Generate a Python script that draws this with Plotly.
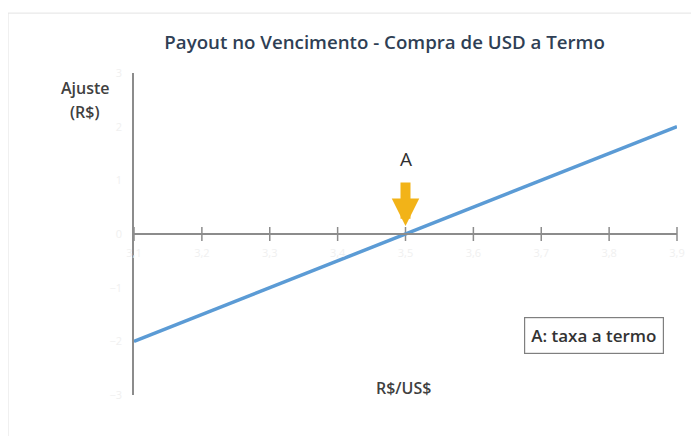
import plotly.graph_objects as go

# Data
spot = [3.1, 3.9]            # R$/US$
ajuste = [-2.0, 2.0]         # R$
x_ticks = [3.1, 3.2, 3.3, 3.4, 3.5, 3.6, 3.7, 3.8, 3.9]
y_ticks = [-3, -2, -1, 0, 1, 2, 3]
forward_rate = 3.5

LABEL_FONT = "Open Sans, sans-serif"

fig = go.Figure()

# tick marks crossing the horizontal axis
fig.add_trace(go.Scatter(
    x=x_ticks, y=[0] * len(x_ticks), mode="markers",
    marker=dict(symbol="line-ns", size=10, line=dict(color="#8c8c8c", width=1.5)),
    hoverinfo="skip", showlegend=False, cliponaxis=False))

fig.add_trace(go.Scatter(
    x=spot, y=ajuste, mode="lines",
    line=dict(color="#5B9BD5", width=3.5),
    showlegend=False, cliponaxis=False))

fig.update_layout(
    width=691, height=428,
    margin=dict(l=126, r=22, t=65, b=41),
    paper_bgcolor="white", plot_bgcolor="white",
    separators=",.",
    font=dict(family=LABEL_FONT, color="#404040"),
    title=dict(text="Payout no Vencimento - Compra de USD a Termo",
               x=0.545, xanchor="center", y=0.92, yanchor="middle",
               font=dict(size=18.7, color="#2F3F55", family=LABEL_FONT, weight=600)),
    xaxis=dict(range=[3.1, 3.9], tickvals=x_ticks, tickformat=".1f",
               showgrid=False, zeroline=False, showline=True,
               linecolor="#8c8c8c", linewidth=1.5,
               anchor="free", position=0.5,
               ticks="outside", ticklen=9, tickcolor="rgba(0,0,0,0)",
               tickfont=dict(size=11, color="#f0f0f0")),
    yaxis=dict(range=[-3, 3], tickvals=y_ticks,
               showgrid=False, zeroline=False, showline=True,
               linecolor="#8c8c8c", linewidth=1.5,
               ticks="outside", ticklen=8, tickcolor="rgba(0,0,0,0)",
               tickfont=dict(size=11, color="#f0f0f0")),
    shapes=[
        dict(type="line", xref="paper", yref="paper", x0=-0.232, x1=1.1,
             y0=1.186, y1=1.186, line=dict(color="#e3e3e3", width=1)),
        dict(type="line", xref="paper", yref="paper", x0=-0.232, x1=-0.232,
             y0=1.186, y1=-0.2, line=dict(color="#e3e3e3", width=1)),
    ],
    annotations=[
        dict(x=forward_rate, y=0, xref="x", yref="y", text="",
             showarrow=True, ax=0, ay=-53, axref="pixel", ayref="pixel",
             arrowhead=2, arrowsize=0.55, arrowwidth=10, arrowcolor="#F2B318",
             standoff=8),
        dict(x=forward_rate, y=0, xref="x", yref="y", text="A",
             showarrow=False, yshift=75,
             font=dict(size=19, color="#303030", family=LABEL_FONT)),
        dict(x=-0.09, y=0.953, xref="paper", yref="paper", xanchor="center",
             yanchor="middle", text="Ajuste",
             showarrow=False, font=dict(size=16, color="#404040", weight=600)),
        dict(x=-0.09, y=0.879, xref="paper", yref="paper", xanchor="center",
             yanchor="middle", text="(R$)",
             showarrow=False, font=dict(size=16, color="#404040", weight=600)),
        dict(x=0.497, y=0.022, xref="paper", yref="paper", xanchor="center",
             yanchor="middle", text="R$/US$",
             showarrow=False, font=dict(size=16, color="#404040", weight=600)),
        dict(x=0.847, y=0.186, xref="paper", yref="paper", xanchor="center",
             yanchor="middle", text="A: taxa a termo", showarrow=False,
             bordercolor="#7f7f7f", borderwidth=1.2, borderpad=6, bgcolor="white",
             font=dict(size=17, color="#333333", weight=600)),
    ],
)

fig.write_html("out.html")
